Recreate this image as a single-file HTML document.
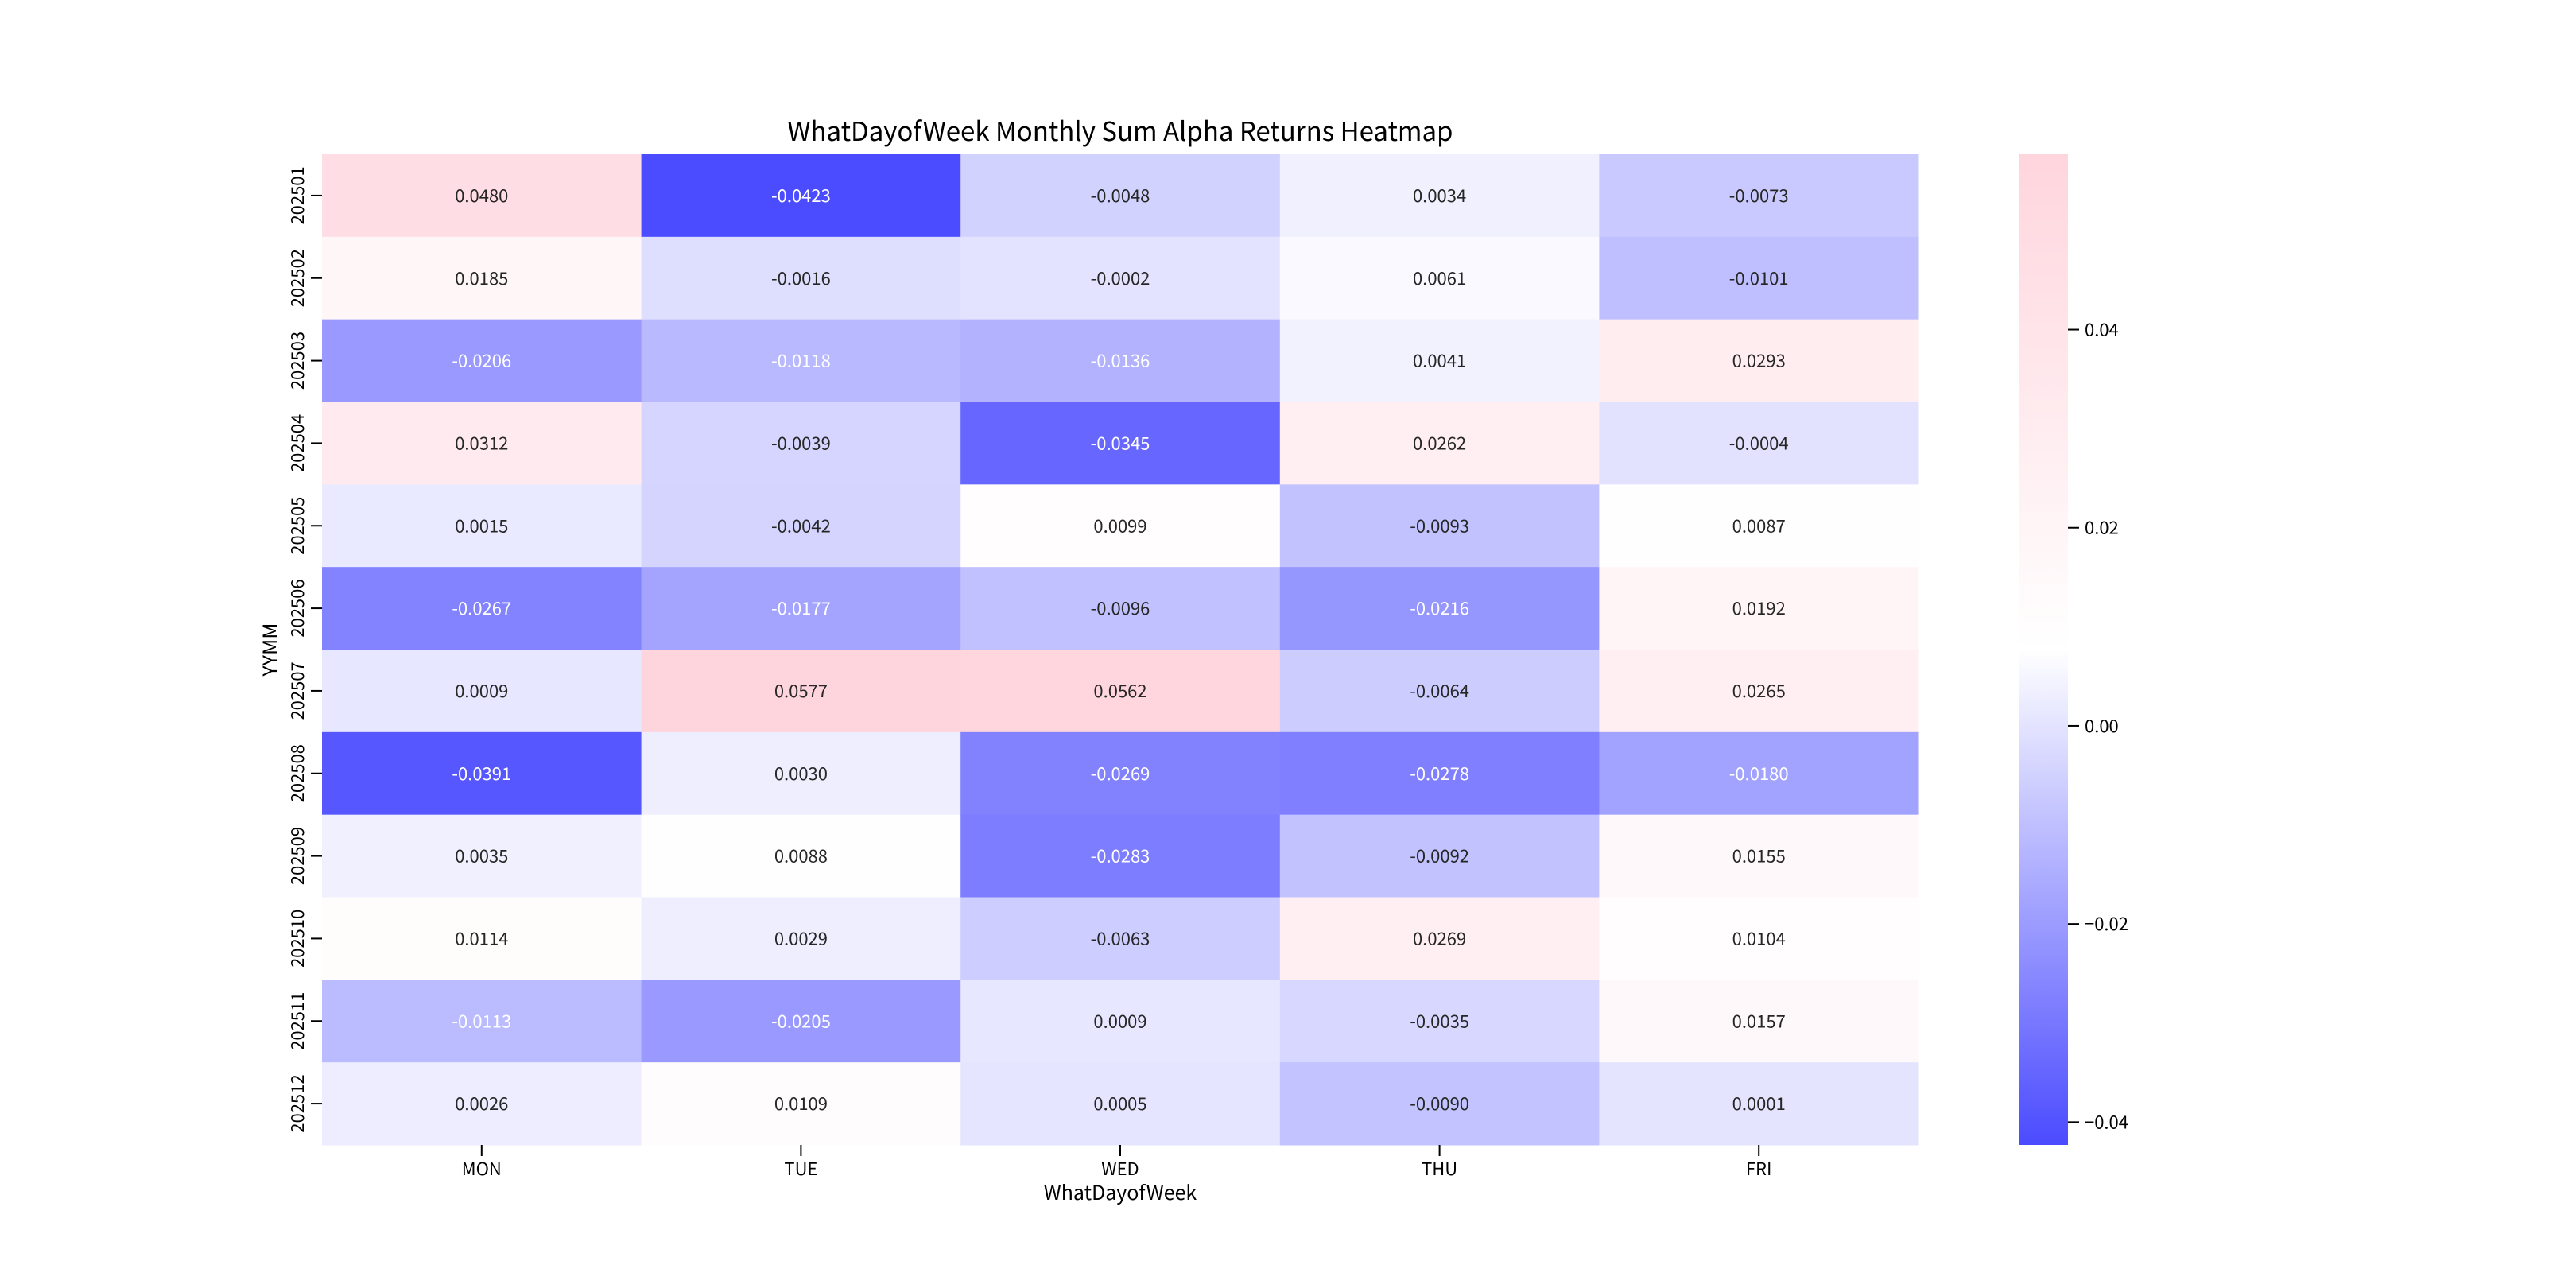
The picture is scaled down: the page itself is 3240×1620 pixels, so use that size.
<!DOCTYPE html>
<html><head><meta charset="utf-8">
<style>
html,body{margin:0;padding:0;background:#fff;}
svg{display:block;}
text{font-family:"WenQuanYi Zen Hei Mono","WenQuanYi Zen Hei","Noto Sans CJK SC","Liberation Sans",sans-serif;fill:#000;}
</style></head>
<body>
<svg id="chart" width="3240" height="1620" viewBox="0 0 3240 1620" xmlns="http://www.w3.org/2000/svg">
<defs>
<linearGradient id="cbgrad" x1="0" y1="1" x2="0" y2="0">
<stop offset="0" stop-color="#4b4bff"/>
<stop offset="0.5" stop-color="#ffffff"/>
<stop offset="1" stop-color="#ffd5dd"/>
</linearGradient>
</defs>
<text x="1409" y="177" font-size="33" text-anchor="middle">WhatDayofWeek Monthly Sum Alpha Returns Heatmap</text>
<g id="cells"></g>
<g id="xticks"></g>
<g id="yticks"></g>
<text x="1409" y="1509" font-size="25" text-anchor="middle">WhatDayofWeek</text>
<text x="0" y="0" font-size="25" text-anchor="middle" transform="translate(349,817) rotate(-90)">YYMM</text>
<rect x="2539" y="194" width="62" height="1246" fill="url(#cbgrad)"/>
<g id="cbticks"></g>
</svg>
<script>
const days = ["MON","TUE","WED","THU","FRI"];
const months = ["202501","202502","202503","202504","202505","202506","202507","202508","202509","202510","202511","202512"];
const rowMON = [0.0480,0.0185,-0.0206,0.0312,0.0015,-0.0267,0.0009,-0.0391,0.0035,0.0114,-0.0113,0.0026];
const rowTUE = [-0.0423,-0.0016,-0.0118,-0.0039,-0.0042,-0.0177,0.0577,0.0030,0.0088,0.0029,-0.0205,0.0109];
const rowWED = [-0.0048,-0.0002,-0.0136,-0.0345,0.0099,-0.0096,0.0562,-0.0269,-0.0283,-0.0063,0.0009,0.0005];
const rowTHU = [0.0034,0.0061,0.0041,0.0262,-0.0093,-0.0216,-0.0064,-0.0278,-0.0092,0.0269,-0.0035,-0.0090];
const rowFRI = [-0.0073,-0.0101,0.0293,-0.0004,0.0087,0.0192,0.0265,-0.0180,0.0155,0.0104,0.0157,0.0001];
const cbTicks = [0.04,0.02,0.00,-0.02,-0.04];
const cbTickLabels = ["0.04","0.02","0.00","\u22120.02","\u22120.04"];

const series = [rowMON,rowTUE,rowWED,rowTHU,rowFRI];
const all = series.flat();
const vmin = Math.min(...all), vmax = Math.max(...all);
const L=405,R=2413,T=194,B=1440;
const cw=(R-L)/days.length, rh=(B-T)/months.length;
const xPos=i=>L+i*cw, yPos=j=>T+j*rh;
const cbY=v=>B-(v-vmin)/(vmax-vmin)*(B-T);
function lerp(a,b,t){return a.map((x,i)=>Math.round(x+(b[i]-x)*t));}
function color(v){
  const t=(v-vmin)/(vmax-vmin);
  const lo=[75,75,255],mid=[255,255,255],hi=[255,213,221];
  const c=t<0.5?lerp(lo,mid,t/0.5):lerp(mid,hi,(t-0.5)/0.5);
  return `rgb(${c[0]},${c[1]},${c[2]})`;
}
const NS="http://www.w3.org/2000/svg";
function mk(tag,attrs,parent){const e=document.createElementNS(NS,tag);for(const k in attrs)e.setAttribute(k,attrs[k]);parent.appendChild(e);return e;}
const gc=document.getElementById('cells');
series.forEach((vals,i)=>{
  vals.forEach((v,j)=>{
    const r=mk('rect',{x:xPos(i),y:yPos(j),width:cw+0.5,height:rh+0.5,fill:color(v)},gc);
    
    
    const t=mk('text',{x:xPos(i)+cw/2,y:yPos(j)+rh/2+8,'font-size':22,'text-anchor':'middle'},gc);
    
    
    t.style.fill=v<-0.0105?'#fff':'#262626';
    t.textContent=(v<0?'-':'')+Math.abs(v).toFixed(4);
  });
});
const gx=document.getElementById('xticks');
days.forEach((d,i)=>{
  const cx=xPos(i)+cw/2;
  const l=mk('line',{x1:cx,x2:cx,y1:B,y2:B+14,stroke:'#000','stroke-width':2},gx);
  
  
  const t=mk('text',{x:cx,y:B+38,'font-size':22,'text-anchor':'middle'},gx);
  
  
  t.textContent=d;
});
const gy=document.getElementById('yticks');
months.forEach((m,j)=>{
  const cy=yPos(j)+rh/2;
  const l=mk('line',{x1:L-14,x2:L,y1:cy,y2:cy,stroke:'#000','stroke-width':2},gy);
  
  
  const t=mk('text',{x:0,y:0,'font-size':22,'text-anchor':'middle',transform:`translate(382,${cy}) rotate(-90)`},gy);
  
  
  t.textContent=m;
});
const gcb=document.getElementById('cbticks');
cbTicks.forEach((v,k)=>{
  const y=cbY(v);
  const l=mk('line',{x1:2601,x2:2615,y1:y,y2:y,stroke:'#000','stroke-width':2},gcb);
  
  
  const t=mk('text',{x:2622,y:y+8,'font-size':22},gcb);
  
  
  t.textContent=cbTickLabels[k];
});
</script>
</body></html>
